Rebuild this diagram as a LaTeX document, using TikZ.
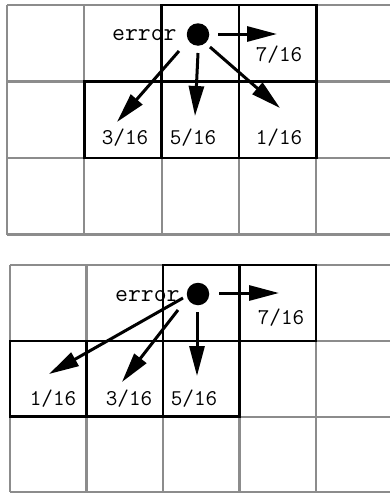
\documentclass[tikz,border=0pt]{standalone}
\usetikzlibrary{arrows.meta}
\definecolor{gridgray}{gray}{0.55}
\tikzset{
  gridline/.style={draw=gridgray, line width=2.2pt},
  cellbox/.style={draw=black, line width=2.6pt},
  dotnode/.style={circle, fill=black, inner sep=0pt, minimum size=22.5pt},
  errlabel/.style={font=\ttfamily\fontsize{25}{25}\selectfont, inner sep=0pt},
  numlabel/.style={font=\ttfamily\fontsize{22.5}{22.5}\selectfont, inner sep=0pt},
  diffarrow/.style={line width=3pt, -{Triangle[length=30pt,width=15pt]}},
}
\begin{document}
\begin{tikzpicture}[x=1pt,y=-1pt]
\useasboundingbox (0,0) rectangle (390,493);
\fill[white] (0,0) rectangle (390,493);

% ---------- top grid ----------
\begin{scope}[shift={(7pt,-5pt)}, x=77.3pt, y=-76.5pt]
  \foreach \i in {0,...,5} \draw[gridline] (\i,0) -- (\i,3);
  \foreach \j in {0,...,3} \draw[gridline] (0,\j) -- (5.2,\j);
  \draw[cellbox] (2,0) rectangle (3,1);
  \draw[cellbox] (3,0) rectangle (4,1);
  \draw[cellbox] (1,1) rectangle (2,2);
  \draw[cellbox] (2,1) rectangle (3,2);
  \draw[cellbox] (3,1) rectangle (4,2);
\end{scope}

\node[dotnode] (dotA) at (198,34.5) {};
\node[errlabel, anchor=base west] (errA) at (112,40) {error};
\node[numlabel] (a7) at (279,55) {7/16};
\node[numlabel] (a3) at (125,138) {3/16};
\node[numlabel] (a5) at (193,138) {5/16};
\node[numlabel] (a1) at (279,138) {1/16};

\coordinate (sAr) at (218,34);  \coordinate (tAr) at (277,34);
\coordinate (sAl) at (179,51);  \coordinate (tAl) at (117,122);
\coordinate (sAd) at (198,53);  \coordinate (tAd) at (195,116);
\coordinate (sAx) at (210,47);  \coordinate (tAx) at (280,108);
\draw[diffarrow] (sAr) -- (tAr);
\draw[diffarrow] (sAl) -- (tAl);
\draw[diffarrow] (sAd) -- (tAd);
\draw[diffarrow] (sAx) -- (tAx);

% ---------- bottom grid ----------
\begin{scope}[shift={(10pt,-265pt)}, x=76.5pt, y=-75.8pt]
  \foreach \i in {0,...,5} \draw[gridline] (\i,0) -- (\i,3);
  \foreach \j in {0,...,3} \draw[gridline] (0,\j) -- (5.2,\j);
  \draw[cellbox] (2,0) rectangle (3,1);
  \draw[cellbox] (3,0) rectangle (4,1);
  \draw[cellbox] (0,1) rectangle (1,2);
  \draw[cellbox] (1,1) rectangle (2,2);
  \draw[cellbox] (2,1) rectangle (3,2);
\end{scope}

\node[dotnode] (dotB) at (198,294) {};
\node[errlabel, anchor=base west] (errB) at (115,301) {error};
\node[numlabel] (b7) at (281,318) {7/16};
\node[numlabel] (b1) at (53,399) {1/16};
\node[numlabel] (b3) at (129,399) {3/16};
\node[numlabel] (b5) at (194,399) {5/16};

\coordinate (sBr) at (219,293); \coordinate (tBr) at (279,293);
\coordinate (sBf) at (183,298); \coordinate (tBf) at (49,374);
\coordinate (sBl) at (178,310); \coordinate (tBl) at (122,382);
\coordinate (sBd) at (197,312); \coordinate (tBd) at (197,376);
\draw[diffarrow] (sBr) -- (tBr);
\draw[diffarrow] (sBf) -- (tBf);
\draw[diffarrow] (sBl) -- (tBl);
\draw[diffarrow] (sBd) -- (tBd);
\end{tikzpicture}
\end{document}
